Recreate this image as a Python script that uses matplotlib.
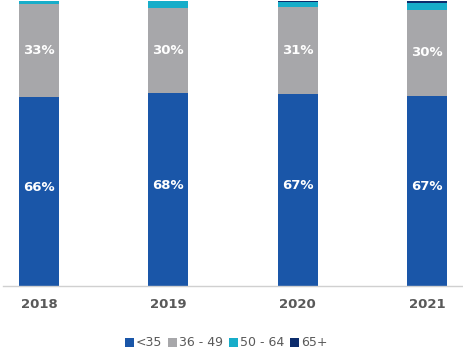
import matplotlib
matplotlib.use("Agg")
import matplotlib.pyplot as plt
import numpy as np

years = ["2018", "2019", "2020", "2021"]
series_names = ["<35", "36 - 49", "50 - 64", "65+"]
under35 = [66.2, 67.6, 67.3, 66.8]
age36_49 = [32.6, 30.0, 30.6, 30.0]
age50_64 = [1.2, 2.4, 1.6, 2.4]
age65 = [0.0, 0.0, 0.5, 0.8]

colors = ["#1a56a8", "#a7a7aa", "#17adc9", "#0c2c6c"]

fig = plt.figure(figsize=(4.63, 3.57), dpi=100)
ax = fig.add_axes([3/463, 71/357, 460/463, 285/357])

x = np.arange(len(years))
bottom = np.zeros(len(years))
data = [under35, age36_49, age50_64, age65]
for vals, name, c in zip(data, series_names, colors):
    vals = np.array(vals)
    ax.bar(x, vals, width=0.31, bottom=bottom, color=c, label=name)
    bottom += vals

for i in range(len(years)):
    ax.text(x[i], under35[i] / 2 + 1.5, f"{round(under35[i])}%", ha="center", va="center",
            color="white", fontsize=9.5, fontweight="bold")
    ax.text(x[i], under35[i] + age36_49[i] / 2, f"{round(age36_49[i])}%", ha="center", va="center",
            color="white", fontsize=9.5, fontweight="bold")

ax.set_xlim(-0.278, 3.278)
ax.set_ylim(0, 100)
ax.set_xticks(x)
ax.set_xticklabels(years, fontsize=9.5, fontweight="bold", color="#595959")
ax.tick_params(axis="x", length=0, pad=9)
ax.set_yticks([])
for s in ["top", "right", "left"]:
    ax.spines[s].set_visible(False)
ax.spines["bottom"].set_color("#d0d0d0")
ax.spines["bottom"].set_linewidth(1)

handles, labels = ax.get_legend_handles_labels()
leg = fig.legend(handles, labels, loc="center", bbox_to_anchor=(226/463, 1 - 343/357), ncol=4,
                 frameon=False, fontsize=9, handlelength=0.75, handleheight=0.75,
                 handletextpad=0.1, columnspacing=0.5, labelcolor="#595959")

fig.savefig("out.png", dpi=100)
